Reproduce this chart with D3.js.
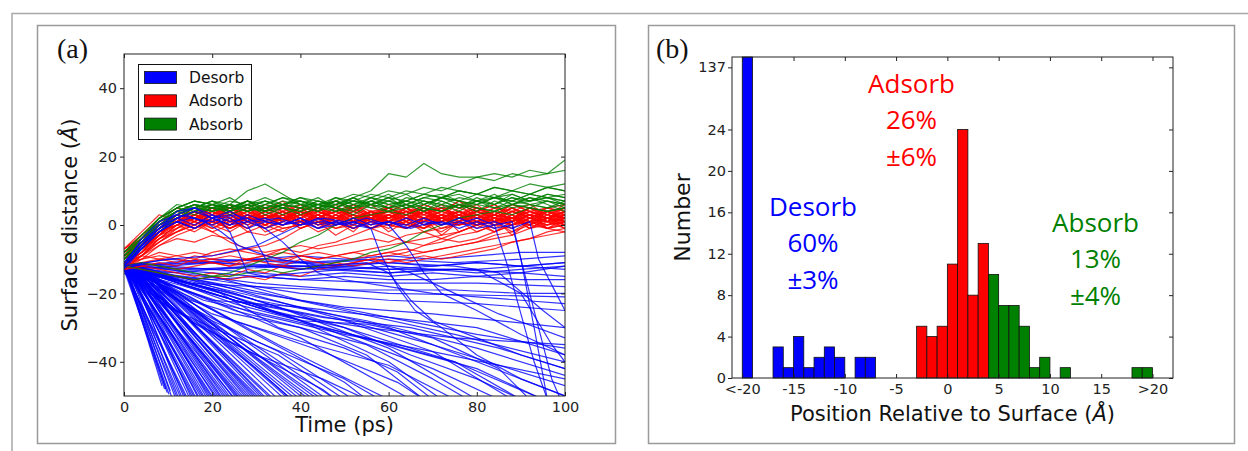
<!DOCTYPE html>
<html>
<head>
<meta charset="utf-8">
<script src="https://cdn.jsdelivr.net/npm/d3@7"></script>
<style>
  body { margin: 0; background: #fff; }
  svg { display: block; }
</style>
</head>
<body>
<svg id="fig" width="1248" height="451"></svg>
<script>
// ---------------- Panel (a): trajectories ----------------
const timeTicks = [0, 20, 40, 60, 80, 100];
const distTicks = [-40, -20, 0, 20, 40];
const seriesNames = ["Desorb", "Adsorb", "Absorb"];

// sampling times (ps) for the adsorbed / absorbed trajectories
const timeGrid = [0,4,8,12,16,20,24,28,32,36,40,44,48,52,56,60,64,68,72,76,80,84,88,92,96,100];

// surface distance (Å) of adsorbed molecules at each grid time
const adsorbTracks = [
  [-8,-4,-1,1,3, 2,4,1,3,0, 2,4,1,3,2, 0,3,1,4,2, 0,3,1,4,2, 3],
  [-10,-6,-2,0,2, 5,1,3,2,4, 1,2,5,2,0, 3,1,4,2,5, 3,1,2,0,3, 1],
  [-12,-7,-3,1,-1, 2,0,3,-1,1, 3,0,2,-1,2, 4,1,-1,2,0, 3,1,-2,1,0, 2],
  [-9,-5,0,2,4, 1,3,5,2,4, 2,5,3,1,4, 2,5,3,2,4, 1,3,5,2,4, 3],
  [-11,-8,-4,-1,1, -2,0,2,1,-1, 0,2,-1,1,3, 0,-1,2,0,1, -2,0,2,-1,1, -1],
  [-7,-3,2,5,3, 6,4,2,5,3, 6,4,2,5,3, 4,6,3,5,2, 4,6,3,5,4, 5],
  [-13,-9,-5,-2,0, 2,-1,1,4,2, 0,3,1,-1,2, 1,3,0,2,4, 1,-1,2,3,1, 0],
  [-10,-6,-1,3,1, 4,2,0,3,1, 5,2,4,1,3, 5,2,4,0,3, 2,5,1,3,2, 4],
  [-8,-5,-2,0,3, 1,-1,2,0,3, 1,-2,0,2,-1, 1,3,0,-2,1, 3,0,2,-1,2, 0],
  [-12,-8,-3,2,4, 2,5,3,1,4, 6,3,5,2,4, 3,1,5,3,6, 4,2,5,3,1, 3],
  [-9,-6,-1,2,0, 3,1,4,2,0, 3,2,4,1,2, 5,3,0,2,4, 1,3,2,5,2, 4],
  [-11,-7,-2,1,3, 0,2,-1,3,1, 4,2,0,3,1, -1,2,4,1,3, 0,2,4,1,3, 2],
  [-10,-5,-1,3,5, 2,4,1,3,5, 2,0,3,5,2, 4,1,3,5,2, 4,1,3,0,2, 5],
  [-12,-9,-4,0,-2, 1,-1,2,0,-2, 1,3,0,2,-1, 1,0,2,-1,1, 3,0,-1,2,0, 1],
  [-8,-4,1,3,2, 5,3,1,4,2, 3,5,2,4,3, 1,4,2,5,3, 4,2,5,3,4, 3],
  [-13,-10,-6,-3,-1, 1,3,0,2,4, 1,3,0,2,4, 1,3,2,0,3, 5,2,1,3,2, 0],
  [-10,-7,-3,0,2, 4,2,5,3,1, 4,2,5,3,2, 4,3,5,2,4, 3,1,4,2,5, 3],
  [-9,-5,0,2,-1, 1,3,2,0,2, -1,1,2,0,3, 1,-1,1,2,0, 1,3,0,2,1, 2],
  [-11,-6,-2,2,4, 3,5,2,4,6, 3,4,2,5,3, 6,4,2,4,3, 5,3,6,4,2, 4],
  [-12,-8,-3,-1,2, 0,-2,1,-1,2, 0,3,1,-1,1, 2,0,-1,2,0, 1,-2,0,1,-1, 0],
  [-8,-3,1,4,2, 3,6,4,2,3, 5,2,4,6,3, 2,4,5,3,1, 4,3,2,4,3, 5],
  [-10,-6,-2,1,3, 1,0,2,4,1, 3,0,2,1,3, 4,2,1,3,2, 4,2,0,3,1, 4],
  [-11,-9,-6,-4,-5, -3,-4,-2,-3,-1, 0,1,-1,0,2, 1,0,2,1,3, 1,2,0,2,1, 3],
  [-12,-10,-8,-9,-10, -8,-7,-8,-9,-7, -8,-6,-5,-3,-1, 0,2,1,3,2, 1,3,2,4,2, 3],
  [-13,-12,-11,-12,-10, -11,-12,-10,-11,-12, -10,-11,-12,-11,-10, -11,-10,-9,-10,-9, -8,-7,-5,-4,-3, -2],
  [-12,-11,-12,-13,-12, -11,-12,-11,-10,-11, -9,-10,-9,-10,-9, -8,-9,-8,-7,-6, -5,-3,-2,0,-1, 0],
  [-11,-9,-10,-9,-8, -9,-8,-7,-8,-7, -6,-7,-6,-5,-4, -5,-3,-2,-1,0, 1,0,2,1,2, 1],
  [-12,-11,-10,-11,-9, -10,-11,-10,-9,-10, -9,-10,-9,-8,-9, -8,-7,-8,-7,-6, -5,-4,-3,-1,0, 1],
  [-13,-12,-13,-14,-15, -14,-15,-13,-14,-12, -13,-12,-11,-12,-11, -10,-11,-10,-9,-8, -7,-6,-5,-4,-2, -1],
  [-11,-10,-9,-10,-11, -10,-9,-10,-9,-8, -9,-8,-9,-8,-7, -6,-5,-4,-3,-2, 0,1,0,2,1, 2],
  [-12,-13,-14,-15,-16, -15,-16,-15,-16,-14, -15,-13,-12,-11,-10, -9,-8,-6,-5,-3, -2,0,1,0,2, 1],
  [-9,-5,-1,1,0, -2,-5,-7,-6,-4, -1,1,0,2,1, 3,0,2,1,3, 0,2,1,3,1, 2],
  [-10,-6,-2,0,2, 1,3,1,2,0, 1,2,0,1,-1, -3,-5,-6,-4,-2, 0,1,2,0,2, 1],
  [-8,-4,0,2,1, 3,1,2,0,2, 1,3,0,1,2, 0,1,-2,-4,-5, -4,-2,0,1,2, 0],
  [-9,-6,-2,1,4, 2,5,3,6,4, 2,5,3,6,4, 5,3,6,4,7, 5,3,6,4,5, 6],
  [-7,-2,3,1,4, 2,0,3,5,2, 4,1,3,0,4, 2,5,1,3,4, 2,0,3,1,4, 2],
  [-9,-6,-3,2,5, 3,6,2,4,7, 3,5,1,4,6, 2,5,3,6,1, 4,6,2,5,3, 6],
  [-11,-7,-4,-2,1, -1,2,-2,0,3, -1,1,-3,0,2, -2,1,-1,3,-2, 0,2,-3,1,-1, -2],
  [-10,-5,0,3,1, 4,0,3,1,5, 2,-1,3,1,4, 0,2,5,1,3, 0,4,1,3,-1, 2],
  [-12,-8,-2,1,4, 2,3,5,1,2, 4,3,1,5,2, 3,0,4,2,1, 5,3,2,0,4, 1],
  [-7,-4,0,4,6, 3,5,7,4,6, 3,5,7,4,2, 5,3,6,4,7, 3,5,4,6,3, 5],
  [-13,-9,-4,0,2, -1,1,3,-2,0, 2,-1,1,-2,3, 0,-1,2,-3,1, 0,-2,1,3,-1, 1],
  [-10,-6,-1,3,2, 0,4,2,5,3, 1,3,6,2,4, 1,5,2,3,0, 2,4,1,5,3, 2],
  [-9,-7,-3,1,3, 5,2,4,0,3, 5,2,4,3,0, 3,5,2,4,6, 2,3,5,2,4, 2],
  [-11,-8,-5,-2,0, 3,1,-1,2,4, 0,2,1,3,-1, 2,4,0,1,3, -1,2,0,3,2, -1],
  [-8,-5,-1,2,4, 2,-1,1,3,1, 4,0,2,4,1, 3,2,-1,1,4, 2,1,3,-1,2, 4],
  [-12,-9,-5,-1,3, 5,3,6,3,2, 5,4,2,6,3, 5,2,4,5,3, 6,2,4,3,5, 4],
  [-10,-7,-2,1,-1, 2,4,1,3,2, 0,4,2,3,1, 2,4,3,1,2, 3,1,4,2,0, 3]
];

// surface distance (Å) of absorbed molecules at each grid time
const absorbTracks = [
  [-9,-4,1,4,6, 5,6,10,12,9, 6,6,7,5,8, 6,7,5,8,6, 7,9,6,8,7, 6],
  [-10,-5,0,3,5, 4,6,5,4,6, 5,7,6,8,10, 15,14,18,15,14, 14,13,15,14,15, 16],
  [-11,-6,-1,2,4, 6,5,7,5,6, 8,6,7,9,8, 10,9,11,10,12, 14,15,14,16,15, 19],
  [-8,-3,2,5,7, 6,5,7,6,8, 7,6,8,7,9, 8,10,9,11,10, 9,11,10,12,11, 12],
  [-9,-4,2,6,5, 7,4,6,5,7, 6,8,5,7,6, 8,7,9,8,10, 9,8,10,9,11, 10],
  [-9,-4,1,4,6, 5,7,6,8,6, 7,5,8,6,7, 9,6,8,7,5, 8,6,9,7,8, 6],
  [-10,-5,0,3,5, 7,5,6,4,6, 5,7,6,8,5, 7,6,8,9,7, 6,8,7,9,8, 7],
  [-8,-3,2,5,4, 6,3,5,7,5, 4,6,5,3,6, 4,5,7,5,6, 4,7,5,6,5, 6],
  [-11,-6,-1,3,5, 4,6,4,5,3, 5,6,4,5,7, 5,6,4,6,5, 7,6,8,6,7, 5],
  [-9,-5,0,4,6, 5,4,6,7,5, 6,4,6,7,6, 5,7,6,8,7, 9,8,7,9,8, 9],
  [-10,-6,-1,2,4, 5,6,5,4,5, 3,5,4,6,5, 4,6,5,4,6, 5,4,6,5,4, 5],
  [-12,-7,-2,2,5, 6,4,7,5,6, 7,5,6,5,7, 6,7,9,8,10, 9,11,10,9,11, 10],
  [-8,-4,1,5,7, 6,5,4,6,5, 7,6,5,7,6, 5,8,7,6,8, 7,6,8,7,9, 8],
  [-12,-11,-12,-13,-14, -15,-15,-14,-13,-14, -13,-12,-11,-10,-8, -7,-5,-2,0,2, 3,4,3,5,4, 5],
  [-12,-13,-14,-15,-16, -15,-14,-12,-10,-8, -5,-3,0,2,3, 4,3,5,4,6, 5,4,6,5,7, 6],
  [-10,-5,1,4,3, 5,4,6,3,5, 4,6,5,4,7, 5,6,4,7,5, 6,5,7,6,5, 7],
  [-9,-4,2,5,7, 6,8,5,7,6, 8,7,5,8,6, 7,9,6,8,7, 6,8,9,7,8, 7],
  [-11,-6,0,3,6, 4,5,7,4,6, 5,4,7,5,6, 8,5,7,6,4, 7,5,6,8,6, 4],
  [-10,-5,1,4,5, 7,6,4,6,8, 6,5,7,6,8, 7,5,6,8,9, 7,8,6,7,9, 8]
];

// desorbed molecules: [time (ps), distance (Å)] points
const desorbTracks = [
  [[0,-11],[8.6,-47]], [[0,-12],[9.2,-48]], [[0,-11],[9.5,-48]], [[0,-13],[9.8,-49]],
  [[0,-12],[10.2,-49.5]], [[0,-12],[10.5,-48.5]],
  [[0.5,-12],[11,-51]], [[0,-11],[11.8,-51]], [[0,-12],[12.2,-51]], [[1,-13],[12.5,-51]],
  [[0,-12],[13,-51]], [[1,-11],[13.3,-51]], [[1,-12],[13.8,-51]], [[0,-13],[14.2,-51]],
  [[0,-13],[14.5,-51]], [[1,-12],[15,-51]], [[2,-12],[15.4,-51]], [[0,-11],[15.8,-51]],
  [[0,-12],[16.2,-51]], [[1,-13],[16.5,-51]], [[2,-13],[17,-51]], [[1,-13],[17.3,-51]],
  [[0,-12],[17.8,-51]], [[0,-12],[18.2,-51]], [[1,-12],[18.5,-51]], [[2,-14],[19,-51]],
  [[2,-12],[19.4,-51]], [[1,-12],[19.8,-51]], [[1,-13],[20.2,-51]], [[0,-11],[20.5,-51]],
  [[2,-13],[21,-51]], [[0,-12],[21.4,-51]], [[1,-12],[21.8,-51]], [[2,-13],[22.2,-51]],
  [[3,-14],[22.5,-51]], [[2,-12],[23,-51]], [[1,-12],[23.5,-51]], [[1,-12],[24,-51]],
  [[3,-13],[24.4,-51]], [[3,-13],[25,-51]], [[0,-12],[25.3,-51]], [[2,-12],[25.8,-51]],
  [[2,-13],[26.2,-51]], [[1,-11],[26.5,-51]], [[1,-12],[27,-51]], [[3,-14],[27.5,-51]],
  [[4,-14],[28,-51]], [[2,-12],[28.5,-51]], [[2,-12],[29,-51]], [[4,-14],[29.5,-51]],
  [[3,-13],[30,-51]], [[2,-13],[30.5,-51]], [[1,-12],[31,-51]], [[3,-12],[31.5,-51]],
  [[5,-14],[32,-51]], [[5,-15],[32.5,-51]], [[2,-12],[33.5,-51]], [[2,-12],[34,-51]],
  [[4,-13],[35,-51]], [[3,-12],[36.5,-51]], [[4,-13],[37.5,-51]], [[6,-15],[38,-51]],
  [[3,-12],[39,-51]], [[4,-13],[40,-51]], [[6,-14],[41,-51]], [[5,-14],[42,-51]],
  [[2,-12],[43,-51]], [[3,-12],[44,-51]], [[5,-13],[46,-51]], [[3,-12],[48,-51]],
  [[0,-12],[10,-20],[25,-33],[45,-51]],
  [[0,-11],[12,-19],[30,-32],[50,-46],[55,-51]],
  [[0,-13],[15,-21],[35,-35],[60,-51]],
  [[0,-12],[20,-22],[40,-33],[65,-51]],
  [[0,-12],[18,-18],[40,-28],[60,-40],[72,-51]],
  [[0,-11],[15,-16],[35,-24],[60,-36],[80,-51]],
  [[0,-12],[20,-19],[45,-30],[70,-42],[85,-51]],
  [[0,-13],[25,-20],[50,-30],[75,-40],[95,-51]],
  [[0,-12],[20,-17],[45,-26],[70,-35],[100,-47]],
  [[0,-12],[30,-22],[55,-28],[80,-36],[100,-44]],
  [[0,-11],[20,-15],[40,-22],[60,-27],[80,-30],[100,-38]],
  [[0,-12],[25,-18],[50,-25],[75,-32],[100,-40]],
  [[0,-12],[30,-20],[50,-24],[70,-26],[100,-30]],
  [[0,-13],[20,-16],[40,-20],[60,-22],[80,-23],[100,-25]],
  [[0,-12],[30,-17],[60,-20],[100,-21]],
  [[0,-12],[25,-25],[40,-30],[55,-35],[70,-45],[78,-51]],
  [[0,-14],[10,-24],[20,-30],[35,-38],[50,-51]],
  [[0,-13],[8,-22],[20,-32],[30,-42],[38,-51]],
  [[0,-12],[12,-25],[22,-33],[30,-38],[45,-48],[48,-51]],
  [[0,-13],[15,-28],[30,-38],[45,-45],[55,-51]],
  [[0,-12],[20,-26],[40,-34],[60,-41],[75,-51]],
  [[0,-11],[18,-22],[35,-27],[55,-33],[75,-40],[90,-51]],
  [[0,-12],[30,-24],[50,-30],[65,-38],[80,-45],[90,-51]],
  [[0,-13],[25,-22],[45,-27],[65,-30],[85,-36],[100,-42]],
  [[0,-12],[22,-20],[35,-30],[50,-36],[62,-43],[70,-51]],
  [[0,-12],[15,-22],[25,-26],[40,-30],[55,-38],[68,-51]],
  [[0,-11],[10,-16],[25,-23],[40,-28],[55,-29],[70,-33],[85,-42],[92,-51]],
  [[0,-12],[35,-26],[55,-30],[75,-33],[100,-35]],
  [[0,-13],[20,-22],[40,-24],[60,-30],[80,-40],[100,-50]],
  [[0,-12],[40,-28],[60,-35],[80,-42],[95,-51]],
  [[0,-12],[15,-24],[30,-34],[50,-45],[58,-51]],
  [[0,-13],[20,-28],[35,-37],[52,-51]],
  [[0,-12],[25,-28],[45,-37],[62,-46],[68,-51]],
  [[0,-11],[30,-23],[50,-28],[70,-37],[88,-51]],
  [[0,-12],[40,-24],[60,-27],[80,-32],[100,-36]],
  [[0,-13],[30,-26],[50,-32],[70,-37],[100,-45]],
  [[0,-12],[10,-10],[20,-11],[30,-10],[40,-9],[50,-10],[60,-9],[70,-10],[80,-9],[90,-8],[100,-8]],
  [[0,-13],[10,-12],[20,-13],[30,-12],[40,-11],[50,-12],[60,-11],[70,-12],[80,-11],[90,-12],[100,-11]],
  [[0,-12],[10,-14],[20,-13],[30,-14],[40,-15],[50,-14],[60,-15],[70,-14],[80,-15],[90,-14],[100,-15]],
  [[0,-11],[10,-12],[20,-11],[30,-12],[40,-12],[50,-13],[60,-12],[70,-13],[80,-13],[90,-12],[100,-13]],
  [[0,-13],[10,-15],[20,-16],[30,-15],[40,-16],[50,-15],[60,-16],[70,-16],[80,-15],[90,-16],[100,-16]],
  [[0,-12],[15,-11],[30,-10],[45,-11],[60,-10],[75,-11],[90,-10],[100,-9]],
  [[0,-12],[15,-13],[30,-12],[45,-13],[60,-14],[75,-13],[90,-14],[100,-12]],
  [[0,-12],[15,-17],[30,-18],[45,-19],[60,-19],[75,-19],[90,-20],[100,-20]],
  [[0,-12],[20,-14],[40,-16],[60,-17],[80,-17],[100,-18]],
  [[0,-12],[20,-11],[40,-12],[60,-11],[75,-12],[85,-14],[95,-25],[100,-30]],
  [[0,-12],[20,-13],[40,-12],[60,-13],[80,-13],[90,-20],[97,-35],[100,-40]],
  [[0,-12],[20,-10],[40,-11],[55,-10],[65,-14],[75,-20],[85,-26],[100,-33]]
];

// desorbed molecules that first reach the surface and later leave it
const desorbReturnTracks = [
  [[0,-12],[4,-6],[8,-1],[12,4],[16,5],[20,3],[22,1],[24,-2],[26,-8],[28,-14],[32,-15],[40,-14],[50,-13],[60,-14],[70,-13],[80,-14],[90,-13],[100,-12]],
  [[0,-11],[4,-5],[8,0],[12,3],[16,5],[20,2],[24,4],[28,1],[32,2],[36,0],[40,1],[44,-1],[48,1],[52,0],[56,-1],[60,1],[64,0],[68,2],[72,0],[76,1],[80,-1],[84,0],[88,1],[90,-10],[93,-30],[96,-51]],
  [[0,-12],[4,-6],[8,-1],[12,2],[16,0],[20,3],[24,1],[28,2],[32,-1],[36,1],[40,0],[44,2],[48,0],[52,1],[56,-1],[58,-8],[62,-18],[66,-25],[72,-30],[80,-38],[90,-45],[100,-50]],
  [[0,-13],[4,-7],[8,-2],[12,1],[16,-1],[20,2],[24,0],[28,1],[32,-1],[36,-5],[40,-10],[44,-14],[50,-16],[60,-18],[70,-20],[80,-21],[90,-22],[100,-23]],
  [[0,-12],[5,-5],[10,0],[15,2],[20,1],[25,3],[30,1],[35,2],[40,0],[45,2],[50,1],[55,0],[60,1],[65,-1],[70,1],[75,0],[80,2],[84,0],[87,-12],[90,-26],[93,-40],[96,-51]],
  [[0,-12],[4,-4],[8,1],[12,3],[16,2],[20,0],[24,2],[28,-1],[32,1],[36,0],[40,2],[44,-1],[48,0],[52,2],[56,0],[60,1],[64,-1],[68,1],[72,0],[76,2],[80,0],[84,1],[88,-1],[92,1],[94,-10],[98,-20],[100,-25]],
  [[0,-11],[4,-5],[8,-1],[12,2],[16,4],[20,2],[24,3],[28,0],[30,-5],[33,-12],[40,-13],[50,-12],[60,-13],[70,-12],[80,-11],[90,-12],[100,-11]],
  [[0,-12],[6,-3],[10,1],[14,3],[18,1],[22,-2],[26,-6],[30,-8],[35,-10],[45,-12],[55,-11],[60,-14],[65,-22],[70,-28],[80,-33],[90,-38],[100,-42]],
  [[0,-12],[10,-10],[20,-9],[30,-6],[35,-3],[40,0],[45,1],[50,0],[55,2],[60,0],[64,-6],[68,-14],[72,-20],[80,-25],[90,-32],[100,-38]],
  [[0,-12],[8,-2],[12,1],[16,-1],[20,2],[24,0],[28,3],[32,1],[36,0],[40,2],[44,0],[48,1],[52,-1],[56,1],[60,0],[64,2],[68,0],[72,1],[76,-1],[80,1],[84,-1],[88,0],[91,-15],[94,-30],[97,-45],[99,-51]]
];

// ---------------- Panel (b): histogram of final positions ----------------
const positionTicks = [-20, -15, -10, -5, 0, 5, 10, 15, 20];
const positionTickLabels = ["<-20", "-15", "-10", "-5", "0", "5", "10", "15", ">20"];
const countTicks = [0, 4, 8, 12, 16, 20, 24, 30];
const countTickLabels = ["0", "4", "8", "12", "16", "20", "24", "137"];

// bins are 1 Å wide, given by their left edge
const desorbBins   = [-20, -17, -16, -15, -14, -13, -12, -11, -9, -8];
const desorbCounts = [137, 3, 1, 4, 1, 2, 3, 2, 2, 2];
const adsorbBins   = [-3, -2, -1, 0, 1, 2, 3];
const adsorbCounts = [5, 4, 5, 11, 24, 8, 13];
const absorbBins   = [4, 5, 6, 7, 8, 9, 11, 18, 19];
const absorbCounts = [10, 7, 7, 5, 1, 2, 1, 1, 1];

const desorbNote = ["Desorb", "60%", "±3%"];
const adsorbNote = ["Adsorb", "26%", "±6%"];
const absorbNote = ["Absorb", "13%", "±4%"];

const colors = { Desorb: "#0000ff", Adsorb: "#ff0000", Absorb: "#008000" };

// ---------------- drawing ----------------
const svg = d3.select("#fig");
svg.append("rect").attr("width", 1248).attr("height", 451).attr("fill", "#fff");

// outer frame and panel boxes
svg.append("path").attr("d", "M12,451V13.5H1248")
  .attr("fill", "none").attr("stroke", "#a8a8a8").attr("stroke-width", 1.5);
[[37.5, 25.5, 578, 418], [648.5, 25.5, 586, 418]].forEach(b => {
  svg.append("rect").attr("x", b[0]).attr("y", b[1]).attr("width", b[2]).attr("height", b[3])
    .attr("fill", "none").attr("stroke", "#9a9a9a").attr("stroke-width", 1.5);
});

const tickFont = "'DejaVu Sans', sans-serif";

function styleAxis(g) {
  g.select(".domain").remove();
  g.selectAll(".tick line").attr("stroke", "#222").attr("stroke-width", 1);
  g.selectAll(".tick text").attr("fill", "#222").style("font-family", tickFont).style("font-size", "14.5px");
}

// ---- panel (a)
const A = { l: 124, r: 565, t: 54, b: 396 };
const x = d3.scaleLinear().domain([0, 100]).range([A.l, A.r]);
const y = d3.scaleLinear().domain([-50, 50]).range([A.b, A.t]);

svg.append("defs").append("clipPath").attr("id", "clipA")
  .append("rect").attr("x", A.l).attr("y", A.t).attr("width", A.r - A.l).attr("height", A.b - A.t);

const line = d3.line().x(d => x(d[0])).y(d => y(d[1]));
const plotA = svg.append("g").attr("clip-path", "url(#clipA)");

function drawTracks(tracks, color) {
  plotA.append("g").selectAll("path").data(tracks).join("path")
    .attr("d", line)
    .attr("fill", "none")
    .attr("stroke", color)
    .attr("stroke-width", 1.2)
    .attr("stroke-opacity", 0.8)
    .attr("stroke-linejoin", "round");
}
const onGrid = vals => vals.map((v, i) => [timeGrid[i], v]).filter(d => d[0] !== undefined);

drawTracks(desorbTracks, colors.Desorb);
drawTracks(adsorbTracks.map(onGrid), colors.Adsorb);
drawTracks(absorbTracks.map(onGrid), colors.Absorb);
drawTracks(desorbReturnTracks, colors.Desorb);

svg.append("rect").attr("x", A.l).attr("y", A.t).attr("width", A.r - A.l).attr("height", A.b - A.t)
  .attr("fill", "none").attr("stroke", "#222").attr("stroke-width", 1);

svg.append("g").attr("transform", `translate(0,${A.b})`)
  .call(d3.axisBottom(x).tickValues(timeTicks).tickSizeInner(-4).tickPadding(6).tickFormat(d3.format("d")))
  .call(styleAxis);
svg.append("g").attr("transform", `translate(${A.l},0)`)
  .call(d3.axisLeft(y).tickValues(distTicks).tickSizeInner(4).tickPadding(3).tickFormat(d => d3.format("d")(d)))
  .call(styleAxis);
svg.append("g").attr("transform", `translate(0,${A.t})`)
  .call(d3.axisTop(x).tickValues(timeTicks).tickSizeInner(-4).tickFormat(""))
  .call(styleAxis);
svg.append("g").attr("transform", `translate(${A.r},0)`)
  .call(d3.axisRight(y).tickValues(distTicks).tickSizeInner(-4).tickFormat(""))
  .call(styleAxis);

// axis titles
svg.append("text").attr("x", (A.l + A.r) / 2).attr("y", 432).attr("text-anchor", "middle")
  .style("font-family", tickFont).style("font-size", "21px").attr("fill", "#111").text("Time (ps)");
const yt = svg.append("text").attr("transform", `translate(77,${(A.t + A.b) / 2}) rotate(-90)`)
  .attr("text-anchor", "middle").style("font-family", tickFont).style("font-size", "21px").attr("fill", "#111");
yt.append("tspan").text("Surface distance (");
yt.append("tspan").style("font-style", "italic").text("Å");
yt.append("tspan").text(")");

// legend
const leg = svg.append("g");
leg.append("rect").attr("x", 138.5).attr("y", 64.5).attr("width", 113).attr("height", 75)
  .attr("fill", "#fff").attr("stroke", "#111").attr("stroke-width", 1);
seriesNames.forEach((name, i) => {
  const cy = 77.5 + i * 23.3;
  leg.append("rect").attr("x", 144.5).attr("y", cy - 6).attr("width", 32).attr("height", 12)
    .attr("fill", colors[name]).attr("stroke", "#111").attr("stroke-width", 0.8);
  leg.append("text").attr("x", 189).attr("y", cy + 5.5)
    .style("font-family", tickFont).style("font-size", "15.5px").attr("fill", "#111").text(name);
});

svg.append("text").attr("x", 57).attr("y", 58)
  .style("font-family", "'Liberation Serif', serif").style("font-size", "28px").attr("fill", "#111").text("(a)");

// ---- panel (b)
const B = { l: 732, r: 1173, t: 57, b: 378 };
const hx = d3.scaleLinear().domain([-21, 22]).range([B.l, B.r]);
const hy = d3.scaleLinear().domain([0, 31]).range([B.b, B.t]).clamp(true);

function drawBars(bins, counts, color) {
  svg.append("g").selectAll("rect").data(bins.map((b, i) => [b, counts[i]])).join("rect")
    .attr("x", d => hx(d[0]))
    .attr("width", d => hx(d[0] + 1) - hx(d[0]))
    .attr("y", d => hy(d[1]))
    .attr("height", d => hy(0) - hy(d[1]))
    .attr("fill", color)
    .attr("stroke", "#111")
    .attr("stroke-width", 0.8);
}
drawBars(desorbBins, desorbCounts, colors.Desorb);
drawBars(adsorbBins, adsorbCounts, colors.Adsorb);
drawBars(absorbBins, absorbCounts, colors.Absorb);

svg.append("rect").attr("x", B.l).attr("y", B.t).attr("width", B.r - B.l).attr("height", B.b - B.t)
  .attr("fill", "none").attr("stroke", "#222").attr("stroke-width", 1);

svg.append("g").attr("transform", `translate(0,${B.b})`)
  .call(d3.axisBottom(hx).tickValues(positionTicks).tickSizeInner(-4).tickPadding(6)
    .tickFormat((d, i) => positionTickLabels[i]))
  .call(styleAxis);
svg.append("g").attr("transform", `translate(${B.l},0)`)
  .call(d3.axisLeft(hy).tickValues(countTicks).tickSizeInner(4).tickPadding(2)
    .tickFormat((d, i) => countTickLabels[i]))
  .call(styleAxis);
svg.append("g").attr("transform", `translate(0,${B.t})`)
  .call(d3.axisTop(hx).tickValues(positionTicks).tickSizeInner(-4).tickFormat(""))
  .call(styleAxis);
svg.append("g").attr("transform", `translate(${B.r},0)`)
  .call(d3.axisRight(hy).tickValues(countTicks).tickSizeInner(-4).tickFormat(""))
  .call(styleAxis);

const xt = svg.append("text").attr("x", (B.l + B.r) / 2).attr("y", 421).attr("text-anchor", "middle")
  .style("font-family", tickFont).style("font-size", "21px").attr("fill", "#111");
xt.append("tspan").text("Position Relative to Surface (");
xt.append("tspan").style("font-style", "italic").text("Å");
xt.append("tspan").text(")");
svg.append("text").attr("transform", `translate(690,${(B.t + B.b) / 2}) rotate(-90)`)
  .attr("text-anchor", "middle").style("font-family", tickFont).style("font-size", "22px")
  .attr("fill", "#111").text("Number");

svg.append("text").attr("x", 656).attr("y", 58)
  .style("font-family", "'Liberation Serif', serif").style("font-size", "28px").attr("fill", "#111").text("(b)");

// percentage notes
function note(lines, cx, top, color) {
  const t = svg.append("text").attr("text-anchor", "middle")
    .style("font-family", "'Open Sans', sans-serif").style("font-size", "26px").attr("fill", color);
  lines.forEach((s, i) => t.append("tspan").attr("x", cx).attr("y", top + i * 36.3).text(s));
}
note(desorbNote, 813, 216, colors.Desorb);
note(adsorbNote, 911.5, 93, colors.Adsorb);
note(absorbNote, 1095.5, 232, colors.Absorb);
</script>
</body>
</html>
